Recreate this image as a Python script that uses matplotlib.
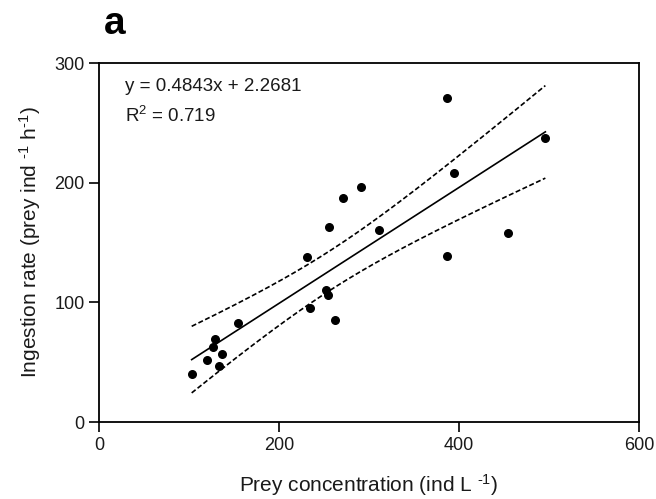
import numpy as np
import matplotlib
matplotlib.use("Agg")
import matplotlib.pyplot as plt

plt.rcParams['font.family'] = ['Liberation Sans', 'DejaVu Sans']
plt.rcParams['mathtext.fontset'] = 'custom'
plt.rcParams['mathtext.rm'] = 'Liberation Sans'
plt.rcParams['mathtext.it'] = 'Liberation Sans:italic'
plt.rcParams['mathtext.bf'] = 'Liberation Sans:bold'

# Data
prey_conc = [103, 120, 127, 128.5, 137, 133, 155, 231, 234, 252, 254.5, 262,
             256, 271.5, 291, 311, 387, 394, 496, 454, 387]
ingestion = [40, 52, 63, 69, 56.5, 47, 83, 137.5, 95, 110, 106, 85,
             163, 187.5, 196, 160.5, 270.5, 208.5, 237, 158, 138.5]
slope = 0.4843
intercept = 2.2681
r2 = 0.719
t95 = 2.093  # t(0.975, df=19)

x = np.array(prey_conc)
y = np.array(ingestion)
n = len(x)
xs = np.linspace(x.min(), x.max(), 200)
fit = slope * xs + intercept
resid = y - (slope * x + intercept)
s = np.sqrt(np.sum(resid ** 2) / (n - 2))
sxx = np.sum((x - x.mean()) ** 2)
half = t95 * s * np.sqrt(1.0 / n + (xs - x.mean()) ** 2 / sxx)

fig = plt.figure(figsize=(6.56, 4.99), dpi=100)
ax = fig.add_axes([0.1509, 0.1543, 0.974 - 0.1509, 0.8737 - 0.1543])

ax.plot(xs, fit, color='black', lw=1.2)
ax.plot(xs, fit + half, color='black', lw=1.2, ls=(0, (3, 1.5)))
ax.plot(xs, fit - half, color='black', lw=1.2, ls=(0, (3, 1.5)))
ax.scatter(x, y, s=30, color='black', zorder=3)

ax.set_xlim(0, 600)
ax.set_ylim(0, 300)
ax.set_xticks([0, 200, 400, 600])
ax.set_yticks([0, 100, 200, 300])
ax.tick_params(direction='out', length=7, width=1.2, labelsize=13, pad=3.5,
               colors='black', labelcolor='#1a1a1a')
for sp in ax.spines.values():
    sp.set_linewidth(1.3)

ax.set_xlabel(r'Prey concentration (ind L $^{\text{-}1}$)', fontsize=15,
              color='#1a1a1a', va='center')
ax.xaxis.set_label_coords(0.5, -0.175)
ax.set_ylabel(r'Ingestion rate (prey ind $^{\text{-}1}$ h$^{\text{-}1}$)', fontsize=15,
              color='#1a1a1a', va='center')
ax.yaxis.set_label_coords(-0.128, 0.5)

ax.text(29, 280, 'y = 0.4843x + 2.2681', fontsize=13.5, va='center', ha='left',
        color='#1a1a1a')
ax.text(29, 256, r'R$^{2}$ = 0.719', fontsize=13.5, va='center', ha='left',
        color='#1a1a1a')

fig.text(115 / 656, 1 - 24 / 499, 'a', fontsize=28, fontweight='bold',
         va='center', ha='center')

fig.savefig('out.png', dpi=100)
